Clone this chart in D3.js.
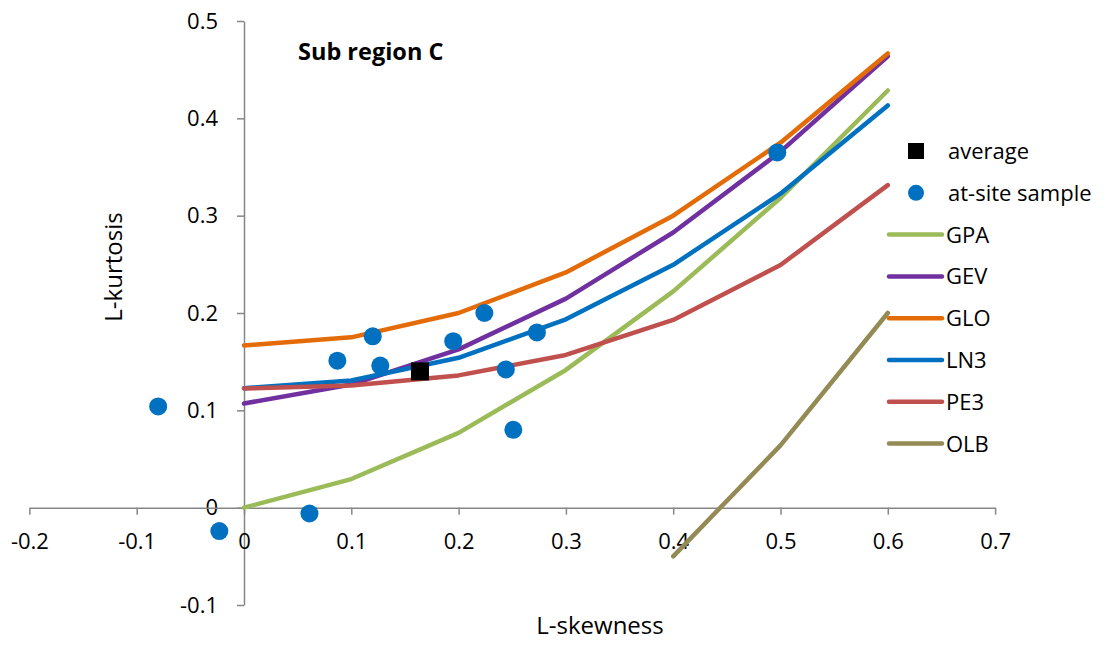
<!DOCTYPE html>
<html><head><meta charset="utf-8">
<script src="https://cdn.jsdelivr.net/npm/d3@7"></script>
<style>
html,body{margin:0;padding:0;background:#fff;}
text{font-family:"Open Sans",sans-serif;fill:#000;}
</style></head>
<body><svg id="chart" width="1112" height="646"></svg>
<script>
// ---- data ----
const xTicks = [-0.2, -0.1, 0, 0.1, 0.2, 0.3, 0.4, 0.5, 0.6, 0.7];
const yTicks = [-0.1, 0, 0.1, 0.2, 0.3, 0.4, 0.5];
const curveSkew = [0, 0.1, 0.2, 0.3, 0.4, 0.5, 0.6];
const gpa = [0, 0.0294, 0.0769, 0.1415, 0.2222, 0.3182, 0.4286];
const gev = [0.1070, 0.1265, 0.1626, 0.2148, 0.2827, 0.3658, 0.4638];
const glo = [0.1667, 0.1750, 0.2000, 0.2417, 0.3000, 0.3750, 0.4667];
const ln3 = [0.1228, 0.1306, 0.1540, 0.1935, 0.2495, 0.3226, 0.4133];
const pe3 = [0.1224, 0.1255, 0.1359, 0.1569, 0.1929, 0.2493, 0.3314];
const olbSkew = [0.4, 0.5, 0.6];
const olb = [-0.050, 0.064, 0.200];
const siteSkew = [-0.080, -0.023, 0.061, 0.087, 0.120, 0.127, 0.195, 0.224, 0.273, 0.244, 0.251, 0.497];
const siteKurt = [0.104, -0.024, -0.006, 0.151, 0.176, 0.146, 0.171, 0.200, 0.180, 0.142, 0.080, 0.365];
const avgSkew = [0.164];
const avgKurt = [0.140];
const seriesNames = ["GPA", "GEV", "GLO", "LN3", "PE3", "OLB"];
const seriesColors = ["#9BBB59", "#7030A0", "#E36C09", "#0070C0", "#C0504D", "#948A54"];
const pointColor = "#0070C0";
const titleText = "Sub region C";

// ---- scales ----
const svg = d3.select("#chart");
const x = d3.scaleLinear().domain([-0.2, 0.7]).range([29.4, 995.1]);
const y = d3.scaleLinear().domain([-0.1, 0.5]).range([605, 21]);
const fmt = d => (Math.abs(d) < 1e-9 ? "0" : String(+d.toFixed(1)));

// ---- axes ----
const axisColor = "#868686";
const gy = svg.append("g").attr("transform", `translate(${x(0)},0)`)
  .call(d3.axisLeft(y).tickValues(yTicks).tickSize(7).tickSizeOuter(0).tickPadding(19).tickFormat(fmt));
const gx = svg.append("g").attr("transform", `translate(0,${y(0)})`)
  .call(d3.axisBottom(x).tickValues(xTicks).tickSize(7).tickSizeOuter(0).tickPadding(19).tickFormat(fmt));
[gx, gy].forEach(g => {
  g.select(".domain").attr("stroke", axisColor).attr("stroke-width", 1.5);
  g.selectAll(".tick line").attr("stroke", axisColor).attr("stroke-width", 1.5);
  g.selectAll(".tick text").attr("font-size", 22).attr("font-family", "Open Sans").attr("fill", "#000");
});

// ---- lines ----
const lineGen = d3.line().x(d => x(d[0])).y(d => y(d[1]));
const allSeries = [
  d3.zip(curveSkew, gpa), d3.zip(curveSkew, gev), d3.zip(curveSkew, glo),
  d3.zip(curveSkew, ln3), d3.zip(curveSkew, pe3), d3.zip(olbSkew, olb)
];
allSeries.forEach((s, i) => {
  svg.append("path").datum(s).attr("d", lineGen)
    .attr("fill", "none").attr("stroke", seriesColors[i]).attr("stroke-width", 4.5)
    .attr("stroke-linejoin", "round").attr("stroke-linecap", "round");
});

// ---- points ----
svg.append("g").selectAll("circle").data(d3.zip(siteSkew, siteKurt)).join("circle")
  .attr("cx", d => x(d[0])).attr("cy", d => y(d[1])).attr("r", 9).attr("fill", pointColor);
svg.append("g").selectAll("rect").data(d3.zip(avgSkew, avgKurt)).join("rect")
  .attr("x", d => x(d[0]) - 9).attr("y", d => y(d[1]) - 9).attr("width", 18).attr("height", 18).attr("fill", "#000");

// ---- titles ----
svg.append("text").attr("x", 298).attr("y", 60).attr("font-size", 23.5).attr("font-weight", "bold").text(titleText);
svg.append("text").attr("x", 600).attr("y", 634).attr("text-anchor", "middle").attr("font-size", 24).text("L-skewness");
svg.append("text").attr("transform", "translate(122,267) rotate(-90)").attr("text-anchor", "middle").attr("font-size", 24).text("L-kurtosis");

// ---- legend ----
const legItems = [{name: "average", type: "square"}, {name: "at-site sample", type: "circle"}]
  .concat(seriesNames.map((n, i) => ({name: n, type: "line", color: seriesColors[i]})));
const leg = svg.append("g");
legItems.forEach((it, i) => {
  const cy = 151 + i * 41.8;
  const g = leg.append("g");
  if (it.type === "square") g.append("rect").attr("x", 908).attr("y", cy - 8).attr("width", 16).attr("height", 16).attr("fill", "#000");
  else if (it.type === "circle") g.append("circle").attr("cx", 916).attr("cy", cy).attr("r", 8).attr("fill", pointColor);
  else g.append("line").attr("x1", 889).attr("x2", 942).attr("y1", cy).attr("y2", cy)
    .attr("stroke", it.color).attr("stroke-width", 4.5).attr("stroke-linecap", "round");
  g.append("text").attr("x", it.type === "line" ? 946 : 948).attr("y", cy).attr("dy", "0.36em").attr("font-size", 22).text(it.name);
});
</script></body></html>
